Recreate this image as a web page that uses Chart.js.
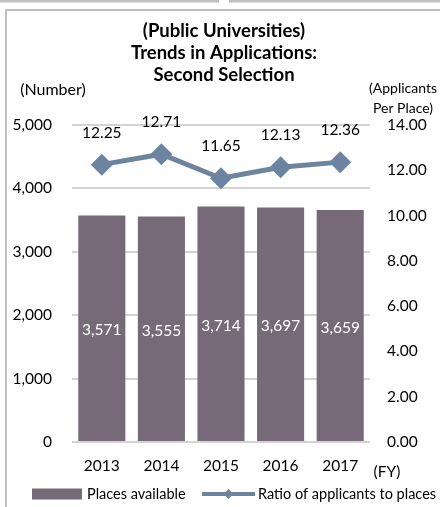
<!DOCTYPE html>
<html>
<head>
<meta charset="utf-8">
<script src="https://cdn.jsdelivr.net/npm/chart.js@4.4.1/dist/chart.umd.min.js"></script>
<style>
  html, body { margin: 0; padding: 0; background: #ffffff; }
  #wrap { width: 440px; height: 507px; position: relative; }
  canvas { display: block; }
</style>
</head>
<body>
<div id="wrap"><canvas id="chart" width="440" height="507"></canvas></div>
<script>
// ---- data ----
const categories = ['2013', '2014', '2015', '2016', '2017'];
const placesAvailable = [3571, 3555, 3714, 3697, 3659];
const applicantRatio = [12.25, 12.71, 11.65, 12.13, 12.36];
const leftTicks = [0, 1000, 2000, 3000, 4000, 5000];
const rightTicks = [0, 2, 4, 6, 8, 10, 12, 14];
const titleLines = ['(Public Universities)', 'Trends in Applications:', 'Second Selection'];
const leftAxisTitle = '(Number)';
const rightAxisTitle = ['(Applicants', 'Per Place)'];
const xAxisUnit = '(FY)';
const seriesNames = ['Places available', 'Ratio of applicants to places'];

// ---- styles ----
const FONT = 'Lato, "Open Sans", sans-serif';
const textColor = '#000000';
const barColor = '#766a79';
const lineColor = '#6d84a0';
const gridColor = '#d3d3d3';
const frameColor = '#bfbfbf';
const tickSize = 15.5;

const overlay = {
  id: 'overlay',
  beforeDraw(chart) {
    const ctx = chart.ctx;
    ctx.save();
    ctx.fillStyle = '#ffffff';
    ctx.fillRect(0, 0, chart.width, chart.height);
    ctx.fillStyle = frameColor;
    ctx.fillRect(0, 0, 219, 2.5);
    ctx.fillRect(229, 0, 211, 2.5);
    ctx.fillRect(5, 9, 2, 498);
    ctx.fillRect(5, 9, 435, 2);
    ctx.restore();
  },
  afterDatasetsDraw(chart) {
    const ctx = chart.ctx;
    ctx.save();
    ctx.textAlign = 'center';
    ctx.textBaseline = 'middle';
    ctx.font = tickSize + 'px ' + FONT;
    // bar value labels
    ctx.fillStyle = '#ffffff';
    chart.getDatasetMeta(0).data.forEach((el, i) => {
      ctx.fillText(placesAvailable[i].toLocaleString('en-US'), el.x, (el.y + el.base) / 2 + 2);
    });
    // line value labels
    ctx.fillStyle = textColor;
    chart.getDatasetMeta(1).data.forEach((el, i) => {
      ctx.fillText(applicantRatio[i].toFixed(2), el.x, el.y - 32);
    });
    ctx.restore();
  },
  afterDraw(chart) {
    const ctx = chart.ctx;
    ctx.save();
    ctx.fillStyle = textColor;
    ctx.textBaseline = 'middle';
    ctx.textAlign = 'center';
    // title
    ctx.font = 'bold 18.5px ' + FONT;
    titleLines.forEach((t, i) => ctx.fillText(t, 224, 31 + i * 22));
    // axis titles
    ctx.font = '16px ' + FONT;
    ctx.fillText(leftAxisTitle, 53, 90);
    ctx.font = '14px ' + FONT;
    ctx.fillText(rightAxisTitle[0], 403, 88);
    ctx.fillText(rightAxisTitle[1], 403, 108);
    ctx.font = tickSize + 'px ' + FONT;
    ctx.fillText(xAxisUnit, 387, 472);
    // legend
    const ly = 494;
    ctx.font = '14.5px ' + FONT;
    ctx.textAlign = 'left';
    ctx.fillStyle = barColor;
    ctx.fillRect(32, ly - 5.5, 50, 11);
    ctx.fillStyle = textColor;
    ctx.fillText(seriesNames[0], 87, ly);
    ctx.strokeStyle = lineColor;
    ctx.lineWidth = 4;
    ctx.beginPath();
    ctx.moveTo(202, ly);
    ctx.lineTo(255, ly);
    ctx.stroke();
    ctx.fillStyle = lineColor;
    ctx.beginPath();
    ctx.moveTo(228.5 - 5, ly);
    ctx.lineTo(228.5, ly - 5);
    ctx.lineTo(228.5 + 5, ly);
    ctx.lineTo(228.5, ly + 5);
    ctx.closePath();
    ctx.fill();
    ctx.fillStyle = textColor;
    ctx.fillText(seriesNames[1], 258, ly);
    ctx.restore();
  }
};

new Chart(document.getElementById('chart'), {
  data: {
    labels: categories,
    datasets: [
      {
        type: 'bar',
        label: seriesNames[0],
        data: placesAvailable,
        backgroundColor: barColor,
        borderWidth: 0,
        barPercentage: 0.79,
        categoryPercentage: 1,
        yAxisID: 'y',
        order: 1
      },
      {
        type: 'line',
        label: seriesNames[1],
        data: applicantRatio,
        borderColor: lineColor,
        backgroundColor: lineColor,
        borderWidth: 5,
        tension: 0,
        pointStyle: 'rectRot',
        pointRadius: 11,
        pointBackgroundColor: lineColor,
        pointBorderColor: lineColor,
        pointBorderWidth: 0,
        yAxisID: 'y1',
        order: 0,
        clip: false
      }
    ]
  },
  options: {
    responsive: false,
    animation: false,
    devicePixelRatio: 1,
    layout: { padding: { top: 125, left: 0, right: 0, bottom: 0 } },
    plugins: {
      legend: { display: false },
      title: { display: false },
      tooltip: { enabled: false }
    },
    scales: {
      x: {
        offset: true,
        grid: { display: false, drawTicks: false },
        border: { display: false },
        ticks: { color: textColor, font: { family: FONT, size: tickSize }, padding: 15 },
        afterFit(s) { s.height = 65; }
      },
      y: {
        position: 'left',
        min: 0,
        max: 5000,
        grid: { color: gridColor, lineWidth: 2, drawTicks: false },
        border: { display: false },
        ticks: {
          color: textColor,
          font: { family: FONT, size: tickSize },
          padding: 20,
          callback: v => Number(v).toLocaleString('en-US')
        },
        afterBuildTicks(s) { s.ticks = leftTicks.map(v => ({ value: v })); },
        afterFit(s) { s.width = 72; }
      },
      y1: {
        position: 'right',
        min: 0,
        max: 14,
        grid: { display: false, drawTicks: false },
        border: { display: false },
        ticks: {
          color: textColor,
          font: { family: FONT, size: tickSize },
          padding: 17,
          callback: v => Number(v).toFixed(2)
        },
        afterBuildTicks(s) { s.ticks = rightTicks.map(v => ({ value: v })); },
        afterFit(s) { s.width = 70; }
      }
    }
  },
  plugins: [overlay]
});
</script>
</body>
</html>
